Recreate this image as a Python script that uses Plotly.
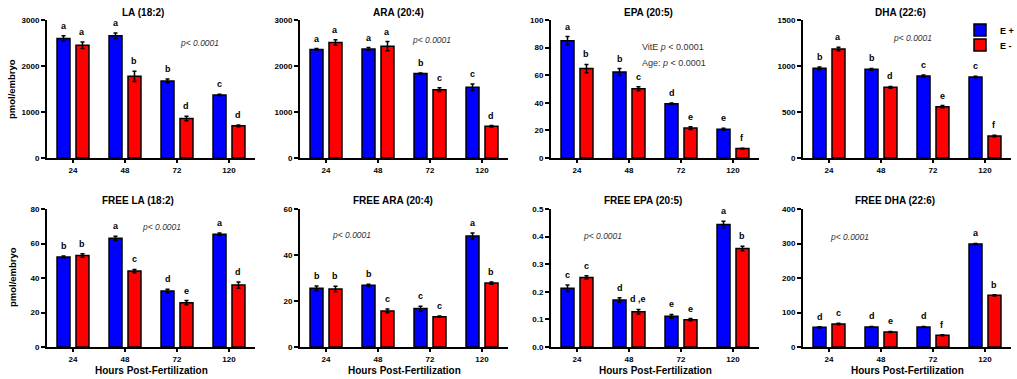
import plotly.graph_objects as go

# ---------------- data ----------------
hours = ["24", "48", "72", "120"]
titles = ["LA (18:2)", "ARA (20:4)", "EPA (20:5)", "DHA (22:6)",
          "FREE LA (18:2)", "FREE ARA (20:4)", "FREE EPA (20:5)", "FREE DHA (22:6)"]
series_names = ["E +", "E -"]

la_plus = [2600, 2660, 1675, 1370]
la_plus_err = [55, 60, 40, 15]
la_minus = [2450, 1775, 860, 700]
la_minus_err = [70, 110, 50, 20]
la_let_plus = ["a", "a", "b", "c"]
la_let_minus = ["a", "b", "d", "d"]

ara_plus = [2360, 2370, 1835, 1540]
ara_plus_err = [20, 30, 15, 70]
ara_minus = [2510, 2430, 1485, 690]
ara_minus_err = [60, 100, 40, 15]
ara_let_plus = ["a", "a", "b", "c"]
ara_let_minus = ["a", "a", "c", "d"]

epa_plus = [85.0, 62.3, 39.4, 20.8]
epa_plus_err = [3.0, 2.5, 0.5, 0.7]
epa_minus = [64.8, 50.2, 21.7, 6.8]
epa_minus_err = [3.0, 1.5, 1.0, 0.3]
epa_let_plus = ["a", "b", "d", "e"]
epa_let_minus = ["b", "c", "e", "f"]

dha_plus = [975, 964, 891, 880]
dha_plus_err = [15, 10, 10, 8]
dha_minus = [1185, 768, 558, 239]
dha_minus_err = [20, 10, 12, 8]
dha_let_plus = ["b", "b", "c", "c"]
dha_let_minus = ["a", "d", "e", "f"]

fla_plus = [52.2, 63.0, 32.5, 65.4]
fla_plus_err = [0.5, 1.2, 1.0, 0.7]
fla_minus = [53.1, 44.0, 25.7, 35.9]
fla_minus_err = [1.0, 1.0, 1.2, 1.8]
fla_let_plus = ["b", "a", "d", "a"]
fla_let_minus = ["b", "c", "e", "d"]

fara_plus = [25.5, 26.8, 16.7, 48.3]
fara_plus_err = [1.0, 0.5, 1.0, 1.3]
fara_minus = [25.2, 15.7, 13.2, 27.8]
fara_minus_err = [1.2, 0.8, 0.3, 0.5]
fara_let_plus = ["b", "b", "c", "a"]
fara_let_minus = ["b", "c", "c", "b"]

fepa_plus = [0.213, 0.170, 0.111, 0.444]
fepa_plus_err = [0.012, 0.008, 0.007, 0.012]
fepa_minus = [0.252, 0.128, 0.099, 0.357]
fepa_minus_err = [0.006, 0.008, 0.004, 0.008]
fepa_let_plus = ["c", "d", "e", "a"]
fepa_let_minus = ["c", "d ,e", "e", "b"]

fdha_plus = [57, 58, 58, 298.6]
fdha_plus_err = [2.0, 1.5, 1.5, 1.5]
fdha_minus = [66.7, 43.5, 34, 149.8]
fdha_minus_err = [2.0, 1.5, 1.5, 2.0]
fdha_let_plus = ["d", "d", "d", "a"]
fdha_let_minus = ["c", "e", "f", "b"]

y_max = [3000, 3000, 100, 1500, 80, 60, 0.5, 400]
y_step = [1000, 1000, 20, 500, 20, 20, 0.1, 100]

panels = [
    (la_plus, la_plus_err, la_minus, la_minus_err, la_let_plus, la_let_minus),
    (ara_plus, ara_plus_err, ara_minus, ara_minus_err, ara_let_plus, ara_let_minus),
    (epa_plus, epa_plus_err, epa_minus, epa_minus_err, epa_let_plus, epa_let_minus),
    (dha_plus, dha_plus_err, dha_minus, dha_minus_err, dha_let_plus, dha_let_minus),
    (fla_plus, fla_plus_err, fla_minus, fla_minus_err, fla_let_plus, fla_let_minus),
    (fara_plus, fara_plus_err, fara_minus, fara_minus_err, fara_let_plus, fara_let_minus),
    (fepa_plus, fepa_plus_err, fepa_minus, fepa_minus_err, fepa_let_plus, fepa_let_minus),
    (fdha_plus, fdha_plus_err, fdha_minus, fdha_minus_err, fdha_let_plus, fdha_let_minus),
]

# ---------------- layout geometry ----------------
W, H = 1017, 379
FONT = "Liberation Sans, Arial, sans-serif"
x_left_px = [47, 300, 551, 803]
x_width_px = 208
row_px = [(20, 158), (209, 347)]
title_cx = [143, 398, 648, 900, 138, 393, 643, 895]
BARGAP = 0.27
BARGROUPGAP = 0.316
offset = (1 - BARGAP) / 4
colors = ["#0000FF", "#FF0000"]
legend_ids = ["legend", "legend2"]

fig = go.Figure()
annotations = []
layout = {}
xs = list(range(len(hours)))

for k, (vp, ep, vm, em, lp, lm) in enumerate(panels):
    row, col = divmod(k, 4)
    n = "" if k == 0 else str(k + 1)
    xa, ya = "x" + n, "y" + n
    x0 = x_left_px[col] / W
    x1 = (x_left_px[col] + x_width_px) / W
    top, bot = row_px[row]
    y0 = 1 - bot / H
    y1 = 1 - top / H

    for s, (vals, errs, lets) in enumerate([(vp, ep, lp), (vm, em, lm)]):
        fig.add_trace(go.Bar(
            x=xs, y=vals, name=series_names[s], xaxis=xa, yaxis=ya,
            marker=dict(color=colors[s], line=dict(color="black", width=1.5)),
            error_y=dict(type="data", array=errs, color="black", thickness=1.5, width=2),
            showlegend=(k == 3), legend=legend_ids[s],
            hoverinfo="skip",
        ))
        sign = -1 if s == 0 else 1
        for i, (v, e, t) in enumerate(zip(vals, errs, lets)):
            annotations.append(dict(
                x=i + sign * offset, y=v + e, xref=xa, yref=ya, text=t,
                showarrow=False, yanchor="middle", yshift=10,
                font=dict(family=FONT, size=9, color="black", weight="bold"),
            ))

    axis_common = dict(showline=True, linecolor="black", linewidth=2,
                       ticks="outside", tickcolor="black", tickwidth=1.5,
                       showgrid=False, zeroline=False,
                       tickfont=dict(family=FONT, size=8, color="black", weight="bold"))
    layout["xaxis" + n] = dict(axis_common, domain=[x0, x1], anchor=ya,
                               range=[-0.5, 3.5], tickvals=xs, ticktext=hours,
                               ticklen=3, fixedrange=True)
    ym, st = y_max[k], y_step[k]
    layout["yaxis" + n] = dict(axis_common, domain=[y0, y1], anchor=xa,
                               range=[0, ym], dtick=st, tick0=0, ticklen=4,
                               tickformat=".1f" if ym < 1 else "d", fixedrange=True)

    # panel title
    annotations.append(dict(x=title_cx[k] / W, y=1 - (12 if row == 0 else 200) / H,
                            xref="paper", yref="paper", text=titles[k], showarrow=False,
                            xanchor="center", yanchor="middle",
                            font=dict(family=FONT, size=10, color="black", weight="bold")))
    if row == 1:
        annotations.append(dict(x=(x_left_px[col] + x_width_px / 2) / W, y=1 - 370 / H,
                                xref="paper", yref="paper", text="Hours Post-Fertilization",
                                showarrow=False, xanchor="center", yanchor="middle",
                                font=dict(family=FONT, size=10, color="black", weight="bold")))

# y-axis titles
for cy in [89, 277]:
    annotations.append(dict(x=12 / W, y=1 - cy / H, xref="paper", yref="paper",
                            text="pmol/embryo", textangle=-90, showarrow=False,
                            xanchor="center", yanchor="middle",
                            font=dict(family=FONT, size=9.5, color="black", weight="bold")))

# statistics text
stat_font = dict(family=FONT, size=8.5, color="#333333", style="italic")
for (px, py) in [(199, 43), (431, 40), (912, 38), (161, 227), (351, 235), (602, 236), (849, 237)]:
    annotations.append(dict(x=px / W, y=1 - py / H, xref="paper", yref="paper",
                            text="p< 0.0001", showarrow=False, xanchor="center",
                            yanchor="middle", font=stat_font))
for (txt, py) in [("VitE <i>p</i> &lt; 0.0001", 47), ("Age: <i>p</i> &lt; 0.0001", 63)]:
    annotations.append(dict(x=640 / W, y=1 - py / H, xref="paper", yref="paper",
                            text=txt, showarrow=False, xanchor="left", yanchor="middle",
                            font=dict(family=FONT, size=9, color="#333333")))

legend_common = dict(xanchor="left", yanchor="middle", bgcolor="rgba(0,0,0,0)",
                     borderwidth=0, itemwidth=30,
                     font=dict(family=FONT, size=9, color="black", weight="bold"))

fig.update_layout(
    **layout,
    annotations=annotations,
    barmode="group", bargap=BARGAP, bargroupgap=BARGROUPGAP,
    width=W, height=H, autosize=False,
    margin=dict(l=0, r=0, t=0, b=0, pad=0, autoexpand=False),
    paper_bgcolor="white", plot_bgcolor="white",
    font=dict(family=FONT, color="black"),
    legend=dict(legend_common, x=960 / W, y=1 - 30 / H),
    legend2=dict(legend_common, x=960 / W, y=1 - 45 / H),
)

fig.write_html("out.html",
               config={"displayModeBar": False},
               post_script="document.body.style.margin='0';document.body.style.overflow='hidden';")
